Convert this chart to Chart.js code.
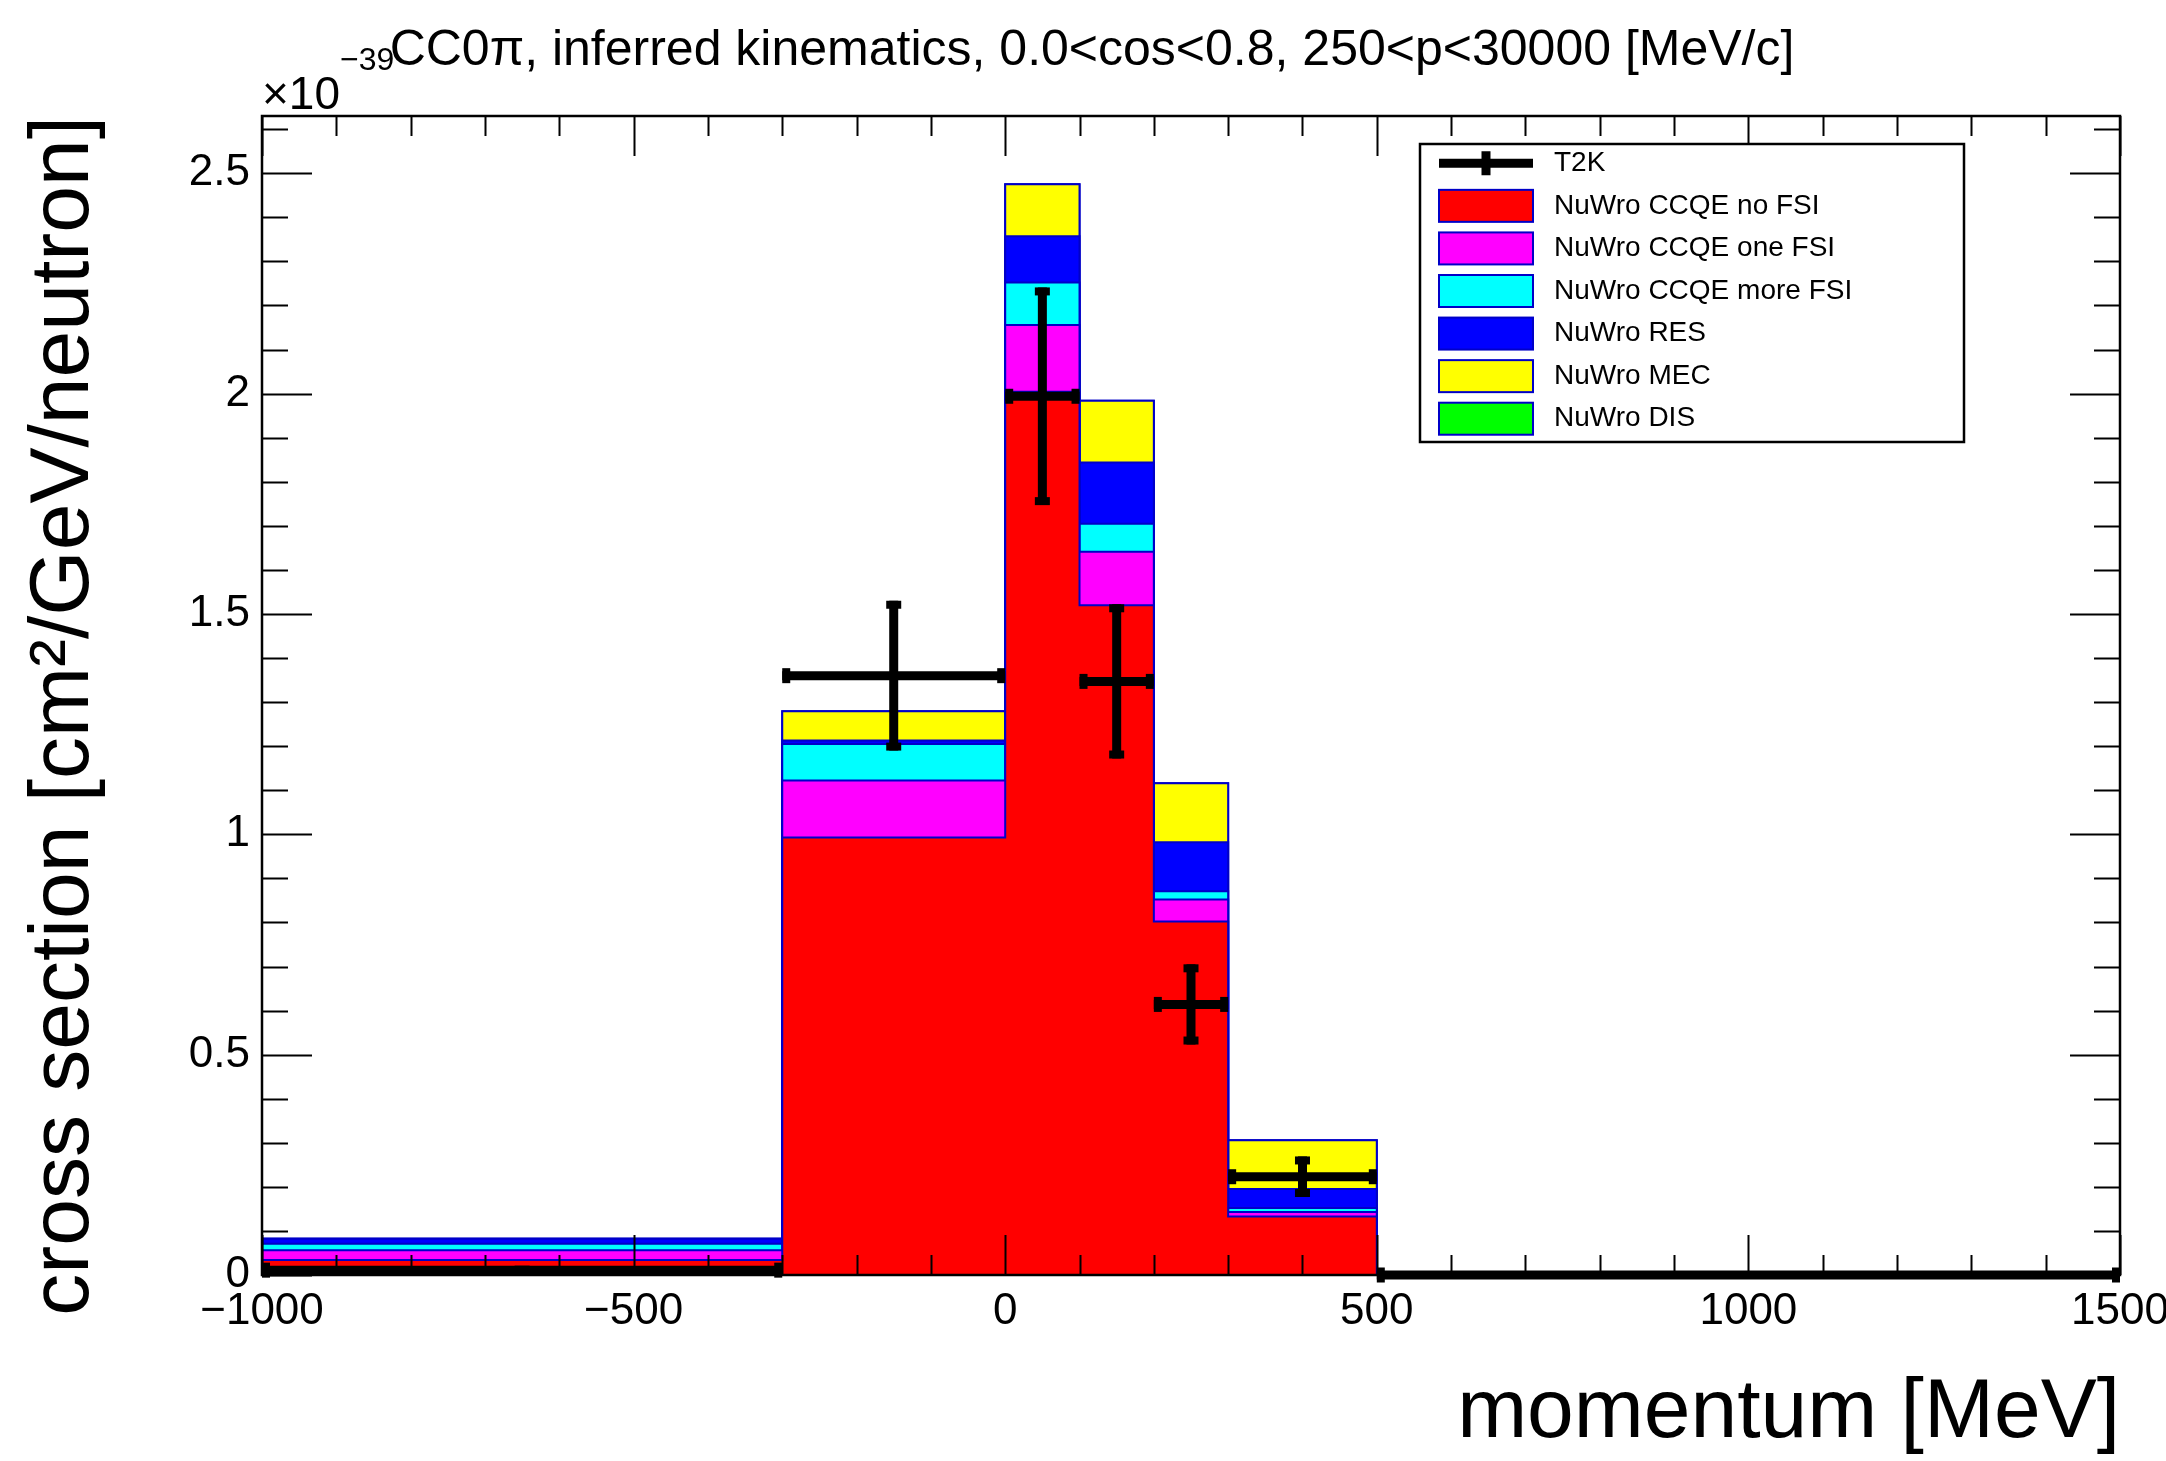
<!DOCTYPE html>
<html>
<head>
<meta charset="utf-8">
<title>CC0π momentum cross section</title>
<script src="https://cdn.jsdelivr.net/npm/chart.js@4.4.1/dist/chart.umd.min.js"></script>
<style>
  html, body { margin: 0; padding: 0; background: #fff; }
  #wrap { width: 2166px; height: 1461px; }
</style>
</head>
<body>
<div id="wrap"><canvas id="xsecChart" width="2166" height="1461"></canvas></div>
<script>
// momentum bin edges [MeV]
const binEdges = [-1000, -300, 0, 100, 200, 300, 500, 1500];

// NuWro predictions per bin, in 1e-39 cm2/GeV/neutron
const ccqeNoFsi   = [0.034, 0.993, 2.004, 1.520, 0.802, 0.133, 0];
const ccqeOneFsi  = [0.022, 0.129, 0.152, 0.121, 0.050, 0.010, 0];
const ccqeMoreFsi = [0.015, 0.083, 0.096, 0.064, 0.019, 0.009, 0];
const resValues   = [0.011, 0.008, 0.105, 0.139, 0.111, 0.043, 0];
const mecValues   = [0.000, 0.066, 0.118, 0.140, 0.134, 0.111, 0];
const disValues   = [0, 0, 0, 0, 0, 0, 0];

// T2K data points with their errors
const t2kValues = [0.011, 1.360, 1.994, 1.347, 0.614, 0.223, 0];
const t2kErrors = [0.008, 0.170, 0.247, 0.175, 0.091, 0.046, 0];

// axis tick labels
const xTicks = [-1000, -500, 0, 500, 1000, 1500];
const yTicks = [0, 0.5, 1, 1.5, 2, 2.5];

const FONT = "'Liberation Sans', Arial, Helvetica, sans-serif";
Chart.defaults.font.family = FONT;
Chart.defaults.color = "#000";

const components = [
    { label: "NuWro CCQE no FSI",   values: ccqeNoFsi,   color: "#ff0000" },
    { label: "NuWro CCQE one FSI",  values: ccqeOneFsi,  color: "#ff00ff" },
    { label: "NuWro CCQE more FSI", values: ccqeMoreFsi, color: "#00ffff" },
    { label: "NuWro RES",           values: resValues,   color: "#0000ff" },
    { label: "NuWro MEC",           values: mecValues,   color: "#ffff00" },
    { label: "NuWro DIS",           values: disValues,   color: "#00ff00" }
];

// stack the components; each layer is a histogram outline filled down to the one below
let running = binEdges.slice(1).map(() => 0);
const stackSets = components.map((c, k) => {
    running = running.map((v, i) => v + c.values[i]);
    const pts = [];
    running.forEach((v, i) => {
        pts.push({ x: binEdges[i], y: v }, { x: binEdges[i + 1], y: v });
    });
    return {
        label: c.label,
        data: pts,
        backgroundColor: c.color,
        borderColor: "#0000c8",
        borderWidth: 2,
        fill: k === 0 ? "origin" : "-1",
        pointRadius: 0,
        tension: 0
    };
});

const t2kSet = {
    label: "T2K",
    data: t2kValues.map((v, i) => ({ x: (binEdges[i] + binEdges[i + 1]) / 2, y: v })),
    showLine: false,
    pointRadius: 0,
    borderColor: "#000",
    backgroundColor: "#000"
};

const BAR_W = 9;
const CAP = 15;

// data points: horizontal bar over the bin, vertical bar over the error
const errorBars = {
    id: "errorBars",
    afterDatasetsDraw(chart) {
        const { ctx, scales: { x, y } } = chart;
        ctx.save();
        ctx.strokeStyle = "#000";
        ctx.fillStyle = "#000";
        ctx.lineWidth = BAR_W;
        t2kSet.data.forEach((p, i) => {
            const x0 = x.getPixelForValue(binEdges[i]);
            const x1 = x.getPixelForValue(binEdges[i + 1]);
            const xc = x.getPixelForValue(p.x);
            const yc = y.getPixelForValue(p.y);
            ctx.beginPath();
            ctx.moveTo(x0, yc);
            ctx.lineTo(x1, yc);
            ctx.stroke();
            ctx.fillRect(x0, yc - CAP / 2, 8, CAP);
            ctx.fillRect(x1 - 8, yc - CAP / 2, 8, CAP);
            const err = t2kErrors[i];
            if (err > 0) {
                const yHi = y.getPixelForValue(p.y + err);
                const yLo = y.getPixelForValue(p.y - err);
                ctx.beginPath();
                ctx.moveTo(xc, yLo);
                ctx.lineTo(xc, yHi);
                ctx.stroke();
                ctx.fillRect(xc - CAP / 2, yHi, CAP, 8);
                ctx.fillRect(xc - CAP / 2, yLo - 8, CAP, 8);
            }
        });
        ctx.restore();
    }
};

// frame with inward ticks on all four sides
const frameTicks = {
    id: "frameTicks",
    afterDatasetsDraw(chart) {
        const { ctx, chartArea: a, scales: { x, y } } = chart;
        ctx.save();
        ctx.strokeStyle = "#000";
        ctx.lineWidth = 2;
        ctx.beginPath();
        for (let v = x.min; v <= x.max + 1e-6; v += 100) {
            const px = Math.round(x.getPixelForValue(v)) + 0.5;
            const len = xTicks.includes(v) ? 40 : 20;
            ctx.moveTo(px, a.bottom); ctx.lineTo(px, a.bottom - len);
            ctx.moveTo(px, a.top); ctx.lineTo(px, a.top + len);
        }
        for (let k = 0; k * 0.1 <= y.max; k++) {
            const v = k / 10;
            const py = Math.round(y.getPixelForValue(v)) + 0.5;
            const len = k % 5 === 0 ? 50 : 26;
            ctx.moveTo(a.left, py); ctx.lineTo(a.left + len, py);
            ctx.moveTo(a.right, py); ctx.lineTo(a.right - len, py);
        }
        ctx.stroke();
        ctx.lineWidth = 2.5;
        ctx.strokeRect(a.left, a.top, a.right - a.left, a.bottom - a.top);
        ctx.restore();
    }
};

// boxed legend in the upper right of the frame
const legendBox = {
    id: "legendBox",
    afterDraw(chart) {
        const { ctx, chartArea: a } = chart;
        const bx = a.right - 700, by = a.top + 28, bw = 544, bh = 298;
        const rowH = bh / 7;
        ctx.save();
        ctx.fillStyle = "#fff";
        ctx.fillRect(bx, by, bw, bh);
        ctx.strokeStyle = "#000";
        ctx.lineWidth = 2.5;
        ctx.strokeRect(bx, by, bw, bh);
        ctx.font = "28px " + FONT;
        ctx.textBaseline = "middle";
        const entries = [t2kSet, ...stackSets];
        entries.forEach((ds, i) => {
            const cy = by + rowH * (i + 0.5) - 2;
            const sx = bx + 19, sw = 94;
            if (ds === t2kSet) {
                ctx.strokeStyle = "#000";
                ctx.lineWidth = BAR_W;
                ctx.beginPath();
                ctx.moveTo(sx, cy); ctx.lineTo(sx + sw, cy);
                ctx.moveTo(sx + sw / 2, cy - 12); ctx.lineTo(sx + sw / 2, cy + 12);
                ctx.stroke();
            } else {
                ctx.fillStyle = ds.backgroundColor;
                ctx.fillRect(sx, cy - 16, sw, 32);
                ctx.strokeStyle = ds.borderColor;
                ctx.lineWidth = 2;
                ctx.strokeRect(sx, cy - 16, sw, 32);
            }
            ctx.fillStyle = "#000";
            ctx.fillText(ds.label, bx + 134, cy);
        });
        ctx.restore();
    }
};

// plot title and the common exponent of the y axis
const header = {
    id: "header",
    afterDraw(chart) {
        const { ctx, chartArea: a } = chart;
        ctx.save();
        ctx.fillStyle = "#000";
        ctx.textBaseline = "alphabetic";
        ctx.textAlign = "center";
        ctx.font = "50px " + FONT;
        ctx.fillText("CC0\u03c0, inferred kinematics, 0.0<cos<0.8, 250<p<30000 [MeV/c]", 1092, 65);
        ctx.textAlign = "left";
        ctx.font = "46px " + FONT;
        ctx.fillText("\u00d710", a.left, a.top - 7);
        const w = ctx.measureText("\u00d710").width;
        ctx.font = "32px " + FONT;
        ctx.fillText("\u221239", a.left + w, a.top - 46);
        ctx.restore();
    }
};

const chart = new Chart(document.getElementById("xsecChart"), {
    type: "line",
    data: { datasets: [...stackSets, t2kSet] },
    options: {
        responsive: false,
        animation: false,
        events: [],
        layout: { padding: { top: 116, right: 46, bottom: 0, left: 0 } },
        plugins: {
            legend: { display: false },
            tooltip: { enabled: false }
        },
        scales: {
            x: {
                type: "linear",
                bounds: "data",
                min: -1000,
                max: 1500,
                grid: { display: false, drawTicks: false },
                border: { display: false },
                afterBuildTicks: s => { s.ticks = xTicks.map(v => ({ value: v })); },
                afterFit: s => { s.height = 186; s.paddingLeft = 0; s.paddingRight = 0; },
                ticks: {
                    font: { size: 44 },
                    padding: 10,
                    maxRotation: 0,
                    autoSkip: false,
                    callback: v => v < 0 ? "\u2212" + Math.abs(v) : String(v)
                },
                title: {
                    display: true,
                    text: "momentum [MeV]",
                    align: "end",
                    font: { size: 84, lineHeight: 1 },
                    padding: { top: 0, bottom: 5 }
                }
            },
            y: {
                type: "linear",
                bounds: "data",
                min: 0,
                max: 2.63,
                grid: { display: false, drawTicks: false },
                border: { display: false },
                afterBuildTicks: s => { s.ticks = yTicks.map(v => ({ value: v })); },
                afterFit: s => { s.width = 262; s.paddingTop = 0; s.paddingBottom = 0; },
                ticks: {
                    font: { size: 44 },
                    padding: 12,
                    autoSkip: false,
                    callback: v => String(v)
                },
                title: {
                    display: true,
                    text: "cross section [cm\u00b2/GeV/neutron]",
                    align: "end",
                    font: { size: 84, lineHeight: 1 },
                    padding: { top: 23, bottom: 0 }
                }
            }
        }
    },
    plugins: [errorBars, frameTicks, legendBox, header]
});
</script>
</body>
</html>
